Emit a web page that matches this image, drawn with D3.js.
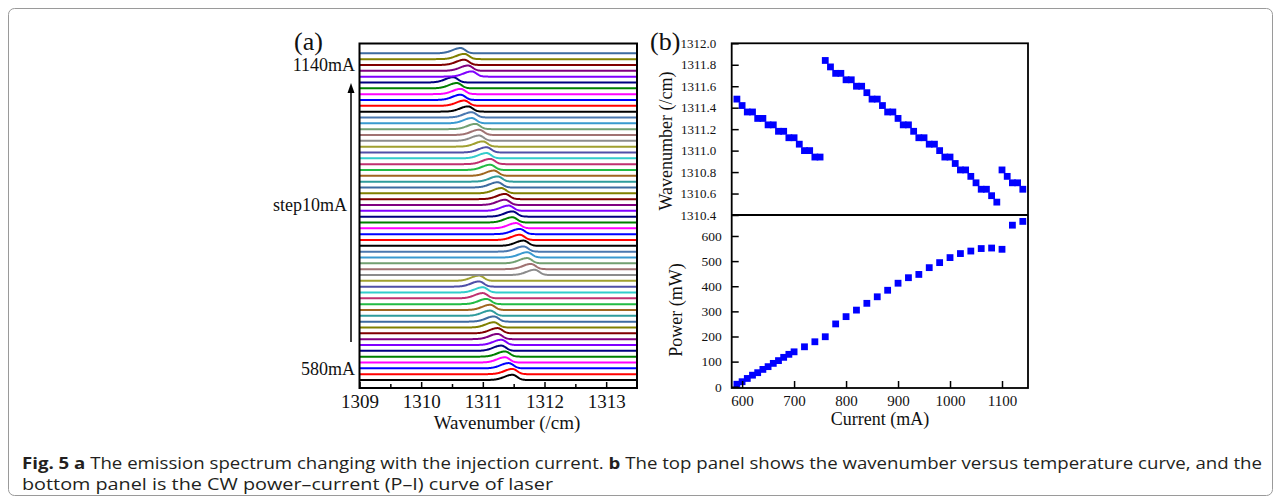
<!DOCTYPE html>
<html>
<head>
<meta charset="utf-8">
<script src="https://cdn.jsdelivr.net/npm/d3@7"></script>
<style>
  body { margin: 0; background: #fff; }
  svg text { fill: #111; }
</style>
</head>
<body>
<svg id="chart"></svg>
<script>
// ---- data
// injection current of each spectrum in (a), bottom to top (mA)
const currents = [580, 590, 600, 610, 620, 630, 640, 650, 660, 670, 680, 690, 700, 710, 720, 730, 740, 750,
  760, 770, 780, 790, 800, 810, 820, 830, 840, 850, 860, 870, 880, 890, 900, 910, 920, 930, 940, 950,
  960, 970, 980, 990, 1000, 1010, 1020, 1030, 1040, 1050, 1060, 1070, 1080, 1090,
  1100, 1110, 1120, 1130, 1140]
// lasing wavenumber at each current (/cm)
const peakWavenumber = [1311.48, 1311.48, 1311.42, 1311.36, 1311.36, 1311.30, 1311.30, 1311.24, 1311.24, 1311.18,
  1311.18, 1311.12, 1311.12, 1311.06, 1311.00, 1311.00, 1310.94, 1310.94,
  1311.84, 1311.78, 1311.72, 1311.72, 1311.66, 1311.66, 1311.60, 1311.60, 1311.54, 1311.48, 1311.48, 1311.42,
  1311.36, 1311.36, 1311.30, 1311.24, 1311.24, 1311.18, 1311.12, 1311.12, 1311.06, 1311.06, 1311.00, 1310.94,
  1310.94, 1310.88, 1310.82, 1310.82, 1310.76, 1310.70, 1310.64, 1310.64, 1310.58, 1310.52,
  1310.82, 1310.76, 1310.70, 1310.70, 1310.64]
// CW output power (P-I curve)
const powerCurrent = [590, 600, 610, 620, 630, 640, 650, 660, 670, 680, 690, 700,
  720, 740, 760, 780, 800, 820, 840, 860, 880, 900, 920, 940, 960, 980, 1000, 1020, 1040, 1060, 1080, 1100, 1120, 1140]
const power = [10, 20, 33, 46, 56, 69, 80, 93, 104, 117, 129, 139,
  159, 179, 199, 250, 279, 305, 332, 358, 384, 412, 434, 447, 474, 494, 514, 530, 540, 550, 552, 547, 643, 658]

// tick labels
const wnTicks = [1309, 1310, 1311, 1312, 1313]
const wnMinorTicks = [1309.5, 1310.5, 1311.5, 1312.5]
const wnTopTicks = [1310.4, 1310.6, 1310.8, 1311.0, 1311.2, 1311.4, 1311.6, 1311.8, 1312.0]
const powerTicks = [0, 100, 200, 300, 400, 500, 600]
const currentTicks = [600, 700, 800, 900, 1000, 1100]

// Origin style colour cycle used for the stacked spectra
const palette = ['#000000', '#ff0000', '#0000ff', '#ff00ff', '#008000', '#000080', '#8000ff', '#800080',
  '#800000', '#808000', '#3d6ba0', '#2f9c9c', '#a0661f', '#22bb44', '#c03070', '#33cccc', '#5050a8',
  '#a0a030', '#8c8c8c', '#a07272', '#72a072', '#3a9ad0', '#4a78b0']

const serif = "'Liberation Serif', 'Times New Roman', serif"

let width = 1281
let height = 503
let svg = d3.select('#chart').attr('width', width).attr('height', height)

// outer figure frame
svg.append('rect')
  .attr('x', 8.5).attr('y', 8.5)
  .attr('width', 1264).attr('height', 487)
  .attr('rx', 6)
  .attr('fill', 'none')
  .attr('stroke', '#9a9a9a')

// ================= panel (a)
let aL = 359.5, aR = 637, aT = 43.5, aB = 388
let xA = d3.scaleLinear().domain([1309, 1313.5]).range([aL, aR])
let yA = d3.scaleLinear().domain([-1.37, 57.68]).range([aB, aT])

svg.append('clipPath').attr('id', 'clipA')
  .append('rect').attr('x', aL).attr('y', aT).attr('width', aR - aL).attr('height', aB - aT)

// spectral line shape: slightly asymmetric gaussian, steeper on the high side
let amp = 0.9
let grid = d3.range(1309, 1313.501, 0.01)
function profile(w, p) {
  let s = w < p ? 0.13 : 0.075
  return amp * Math.exp(-((w - p) * (w - p)) / (2 * s * s))
}
let line = d3.line().x(d => xA(d[0])).y(d => yA(d[1]))

let gA = svg.append('g').attr('clip-path', 'url(#clipA)')
currents.forEach((c, i) => {
  let pts = grid.map(w => [w, i + profile(w, peakWavenumber[i])])
  gA.append('path')
    .attr('d', line(pts))
    .attr('fill', 'none')
    .attr('stroke', palette[i % palette.length])
    .attr('stroke-width', 2)
})

// bottom axis, ticks pointing inside
let axA = svg.append('g').attr('transform', `translate(0,${aB})`)
  .call(d3.axisBottom(xA).tickValues(wnTicks).tickSize(-6).tickPadding(7).tickFormat(d3.format('d')))
  .attr('font-family', serif).attr('font-size', 19)
axA.select('.domain').remove()
axA.selectAll('line').attr('stroke', '#000').attr('stroke-width', 1.6)
let axAm = svg.append('g').attr('transform', `translate(0,${aB})`)
  .call(d3.axisBottom(xA).tickValues(wnMinorTicks).tickSize(-4).tickFormat(''))
axAm.select('.domain').remove()
axAm.selectAll('line').attr('stroke', '#000').attr('stroke-width', 1.6)

svg.append('rect')
  .attr('x', aL).attr('y', aT).attr('width', aR - aL).attr('height', aB - aT)
  .attr('fill', 'none').attr('stroke', '#000').attr('stroke-width', 2)

svg.append('text').attr('x', 507).attr('y', 429)
  .attr('text-anchor', 'middle').attr('font-family', serif).attr('font-size', 19)
  .text('Wavenumber (/cm)')
svg.append('text').attr('x', 294).attr('y', 50)
  .attr('font-family', serif).attr('font-size', 26)
  .text('(a)')

// current annotations and arrow
let annot = [['1140mA', 71], ['step10mA', 211], ['580mA', 375]]
annot.forEach(a => {
  svg.append('text').attr('x', a[0] === 'step10mA' ? 347 : 355).attr('y', a[1])
    .attr('text-anchor', 'end').attr('font-family', serif).attr('font-size', 18)
    .text(a[0])
})
svg.append('line')
  .attr('x1', 351).attr('x2', 351).attr('y1', 342).attr('y2', 90)
  .attr('stroke', '#000').attr('stroke-width', 1.5)
svg.append('path')
  .attr('d', 'M351,83 L347.5,93 L354.5,93 Z')
  .attr('fill', '#000')

// ================= panel (b)
let bL = 731.7, bR = 1028, bT = 43.3, bM = 215, bB = 388
let xB = d3.scaleLinear().domain([580, 1150]).range([bL, bR])
let yTop = d3.scaleLinear().domain([1310.4, 1312.0]).range([bM, bT])
let yBot = d3.scaleLinear().domain([-5, 683.5]).range([bB, bM])
let ms = 6.8

// wavenumber vs current (spectra from 590 mA on)
let wnPts = currents.map((c, i) => [c, peakWavenumber[i]]).filter(d => d[0] >= 590)
svg.append('g').selectAll('rect')
  .data(wnPts).enter().append('rect')
  .attr('x', d => xB(d[0]) - ms / 2)
  .attr('y', d => yTop(d[1]) - ms / 2)
  .attr('width', ms).attr('height', ms)
  .attr('fill', '#0000ff')

// power vs current
svg.append('g').selectAll('rect')
  .data(powerCurrent).enter().append('rect')
  .attr('x', d => xB(d) - ms / 2)
  .attr('y', (d, i) => yBot(power[i]) - ms / 2)
  .attr('width', ms).attr('height', ms)
  .attr('fill', '#0000ff')

let axTop = svg.append('g').attr('transform', `translate(${bL},0)`)
  .call(d3.axisLeft(yTop).tickValues(wnTopTicks).tickSize(-7).tickPadding(15.5).tickFormat(d3.format('.1f')))
  .attr('font-family', serif).attr('font-size', 13)
axTop.select('.domain').remove()

let axBot = svg.append('g').attr('transform', `translate(${bL},0)`)
  .call(d3.axisLeft(yBot).tickValues(powerTicks).tickSize(-7).tickPadding(10).tickFormat(d3.format('d')))
  .attr('font-family', serif).attr('font-size', 13.5)
axBot.select('.domain').remove()

let axX = svg.append('g').attr('transform', `translate(0,${bB})`)
  .call(d3.axisBottom(xB).tickValues(currentTicks).tickSize(-7).tickPadding(7.5).tickFormat(d3.format('d')))
  .attr('font-family', serif).attr('font-size', 15)
axX.select('.domain').remove()

svg.selectAll('g.tick line').attr('stroke', '#000').attr('stroke-width', 1.5)

svg.append('rect')
  .attr('x', bL).attr('y', bT).attr('width', bR - bL).attr('height', bB - bT)
  .attr('fill', 'none').attr('stroke', '#000').attr('stroke-width', 1.8)
svg.append('line')
  .attr('x1', bL).attr('x2', bR).attr('y1', bM).attr('y2', bM)
  .attr('stroke', '#000').attr('stroke-width', 1.8)

svg.append('text').attr('x', 880).attr('y', 424.5)
  .attr('text-anchor', 'middle').attr('font-family', serif).attr('font-size', 18)
  .text('Current (mA)')
svg.append('text').attr('transform', 'translate(672,141) rotate(-90)')
  .attr('text-anchor', 'middle').attr('font-family', serif).attr('font-size', 18)
  .text('Wavenumber (/cm)')
svg.append('text').attr('transform', 'translate(682,310) rotate(-90)')
  .attr('text-anchor', 'middle').attr('font-family', serif).attr('font-size', 18)
  .text('Power (mW)')
svg.append('text').attr('x', 650).attr('y', 50)
  .attr('font-family', serif).attr('font-size', 26)
  .text('(b)')

// ================= caption
let cap1 = svg.append('text').attr('x', 22).attr('y', 469)
  .attr('font-family', "'Open Sans', sans-serif").attr('font-size', 16)
  .attr('textLength', 1240).attr('lengthAdjust', 'spacingAndGlyphs')
  .style('fill', '#231f20')
cap1.append('tspan').attr('font-weight', 'bold').text('Fig. 5 a')
cap1.append('tspan').text(' The emission spectrum changing with the injection current. ')
cap1.append('tspan').attr('font-weight', 'bold').text('b')
cap1.append('tspan').text(' The top panel shows the wavenumber versus temperature curve, and the')

svg.append('text').attr('x', 22).attr('y', 490)
  .attr('font-family', "'Open Sans', sans-serif").attr('font-size', 16)
  .attr('textLength', 531).attr('lengthAdjust', 'spacingAndGlyphs')
  .style('fill', '#231f20')
  .text('bottom panel is the CW power\u2013current (P\u2013I) curve of laser')
</script>
</body>
</html>
